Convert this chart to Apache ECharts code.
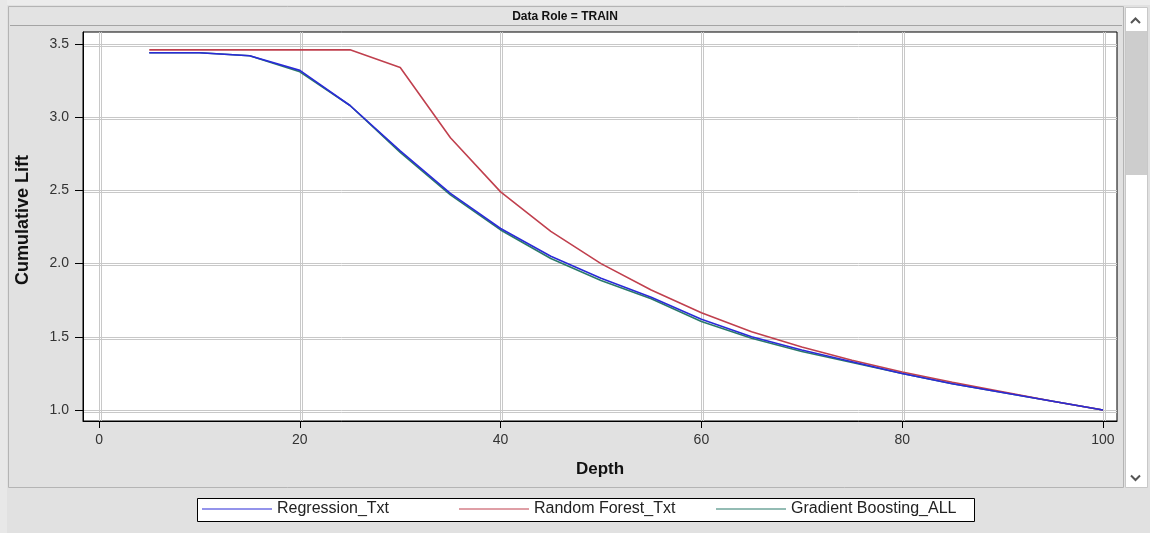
<!DOCTYPE html>
<html>
<head>
<meta charset="utf-8">
<script src="https://cdn.jsdelivr.net/npm/echarts@6/dist/echarts.min.js"></script>
<style>
html,body{margin:0;padding:0;background:#e6e6e6;}
#chart{width:1150px;height:533px;}
</style>
</head>
<body>
<div id="chart"></div>
<script>
// ---- data ----
var depth = [5,10,15,20,25,30,35,40,45,50,55,60,65,70,75,80,85,90,95,100];
var regressionTxt = [3.44,3.44,3.42,3.32,3.08,2.77,2.48,2.24,2.05,1.90,1.77,1.62,1.50,1.41,1.33,1.25,1.18,1.12,1.06,1.00];
var randomForestTxt = [3.46,3.46,3.46,3.46,3.46,3.34,2.86,2.49,2.22,2.00,1.82,1.665,1.535,1.43,1.34,1.26,1.19,1.125,1.06,1.00];
var gradientBoostingAll = [3.44,3.44,3.42,3.31,3.08,2.76,2.47,2.23,2.035,1.885,1.76,1.605,1.49,1.40,1.325,1.25,1.18,1.12,1.06,1.00];
var xTicks = [0,20,40,60,80,100];
var yTicks = [1.0,1.5,2.0,2.5,3.0,3.5];
var seriesNames = ['Regression_Txt','Random Forest_Txt','Gradient Boosting_ALL'];

function pairs(ys){ return depth.map(function(d,i){ return [d, ys[i]]; }); }

var FONT = '"Liberation Sans", Arial, sans-serif';
var X_MIN = -1.6, X_MAX = 101.4, Y_MIN = 0.925, Y_MAX = 3.582;
var GRID_W = 1034, GRID_H = 389;
// second line of each double grid line sits 2px away (converted to data units)
var xShift = 2 * (X_MAX - X_MIN) / GRID_W;
var yShift = -2 * (Y_MAX - Y_MIN) / GRID_H;
var xTicks2 = xTicks.map(function(v){ return v + xShift; });
var yTicks2 = yTicks.map(function(v){ return v + yShift; });

var chart = echarts.init(document.getElementById('chart'), null, {renderer:'canvas'});

var legendBase = function(name, left){
  return {
    data:[name], left:left, top:501, padding:0, itemWidth:70, itemHeight:14,
    icon:'path://M0,6.6 L70,6.6 L70,7.4 L0,7.4 Z',
    itemGap:0, selectedMode:false,
    textStyle:{fontFamily:FONT, fontSize:16, color:'#222', padding:[0,0,0,0]}
  };
};
var GRID_COLOR = '#c8c8c8';
var split = {show:true, lineStyle:{color:GRID_COLOR, width:1}};

var option = {
  backgroundColor:'#e1e1e1',
  animation:false,
  grid:{left:83, top:32, width:GRID_W, height:GRID_H, show:true, backgroundColor:'#ffffff', borderColor:'#000', borderWidth:1, containLabel:false},
  graphic:[
    {type:'rect', z:-20, shape:{x:0,y:0,width:1150,height:5}, style:{fill:'#ececec'}},
    {type:'rect', z:-20, shape:{x:0,y:0,width:7,height:533}, style:{fill:'#e8e8e8'}},
    {type:'rect', z:-19, shape:{x:8.5,y:6.5,width:1115,height:481}, style:{fill:'#e1e1e1', stroke:'#b4b4b4', lineWidth:1}},
    {type:'rect', z:-18, shape:{x:10,y:8,width:1112,height:17}, style:{fill:'#e3e3e3'}},
    {type:'line', z:-17, shape:{x1:10,y1:25.5,x2:1122,y2:25.5}, style:{stroke:'#a4a4a4', lineWidth:1}},
    {type:'text', z:10, x:565, y:17, style:{text:'Data Role = TRAIN', font:'bold 12px ' + FONT, fill:'#111', textAlign:'center', textVerticalAlign:'middle'}},
    {type:'text', z:10, x:23, y:220, rotation:Math.PI/2, style:{text:'Cumulative Lift', font:'bold 18px ' + FONT, fill:'#111', textAlign:'center', textVerticalAlign:'middle'}},
    // scrollbar
    {type:'rect', z:-18, shape:{x:1125.5,y:7.5,width:22,height:480}, style:{fill:'#ffffff', stroke:'#c8c8c8', lineWidth:1}},
    {type:'rect', z:-17, shape:{x:1126,y:31,width:21,height:144}, style:{fill:'#cdcdcd'}},
    {type:'polyline', z:-16, shape:{points:[[1131,23],[1135.5,18.5],[1140,23]]}, style:{stroke:'#555', lineWidth:2, fill:null}},
    {type:'polyline', z:-16, shape:{points:[[1131,475.5],[1135.5,480],[1140,475.5]]}, style:{stroke:'#555', lineWidth:2, fill:null}},
    // legend box
    {type:'rect', z:-15, shape:{x:197.5,y:498.5,width:777,height:23}, style:{fill:'#ffffff', stroke:'#000', lineWidth:1}}
  ],
  legend:[
    legendBase(seriesNames[0], 202),
    legendBase(seriesNames[1], 459),
    legendBase(seriesNames[2], 716)
  ],
  xAxis:[
    {type:'value', min:X_MIN, max:X_MAX, gridIndex:0,
     axisLine:{show:true, onZero:false, lineStyle:{color:'#000', width:1}},
     axisTick:{show:true, length:7, customValues:xTicks, lineStyle:{color:'#000'}},
     axisLabel:{show:true, margin:12, customValues:xTicks, fontFamily:FONT, fontSize:14, color:'#333'},
     splitLine:split,
     name:'Depth', nameLocation:'middle', nameGap:40,
     nameTextStyle:{fontFamily:FONT, fontSize:17, fontWeight:'bold', color:'#111'}},
    {type:'value', min:X_MIN, max:X_MAX, gridIndex:0,
     axisLine:{show:false}, axisTick:{show:false, customValues:xTicks2}, axisLabel:{show:false, customValues:xTicks2},
     splitLine:split}
  ],
  yAxis:[
    {type:'value', min:Y_MIN, max:Y_MAX, gridIndex:0,
     axisLine:{show:true, onZero:false, lineStyle:{color:'#000', width:1}},
     axisTick:{show:true, length:8, customValues:yTicks, lineStyle:{color:'#000'}},
     axisLabel:{show:true, margin:14, customValues:yTicks, fontFamily:FONT, fontSize:14, color:'#333',
       formatter:function(v){ return Number(v).toFixed(1); }},
     splitLine:split},
    {type:'value', min:Y_MIN, max:Y_MAX, gridIndex:0,
     axisLine:{show:false}, axisTick:{show:false, customValues:yTicks2}, axisLabel:{show:false, customValues:yTicks2},
     splitLine:split}
  ],
  series:[
    {name:seriesNames[2], type:'line', xAxisIndex:0, yAxisIndex:0, data:pairs(gradientBoostingAll), symbol:'none', z:3,
     lineStyle:{color:'#2b7a6a', width:1.6}, itemStyle:{color:'#2b7a6a'}},
    {name:seriesNames[1], type:'line', xAxisIndex:0, yAxisIndex:0, data:pairs(randomForestTxt), symbol:'none', z:4,
     lineStyle:{color:'#c0404e', width:1.6}, itemStyle:{color:'#c0404e'}},
    {name:seriesNames[0], type:'line', xAxisIndex:0, yAxisIndex:0, data:pairs(regressionTxt), symbol:'none', z:5,
     lineStyle:{color:'#2a2ad8', width:1.6}, itemStyle:{color:'#2a2ad8'}}
  ]
};
chart.setOption(option);
</script>
</body>
</html>
